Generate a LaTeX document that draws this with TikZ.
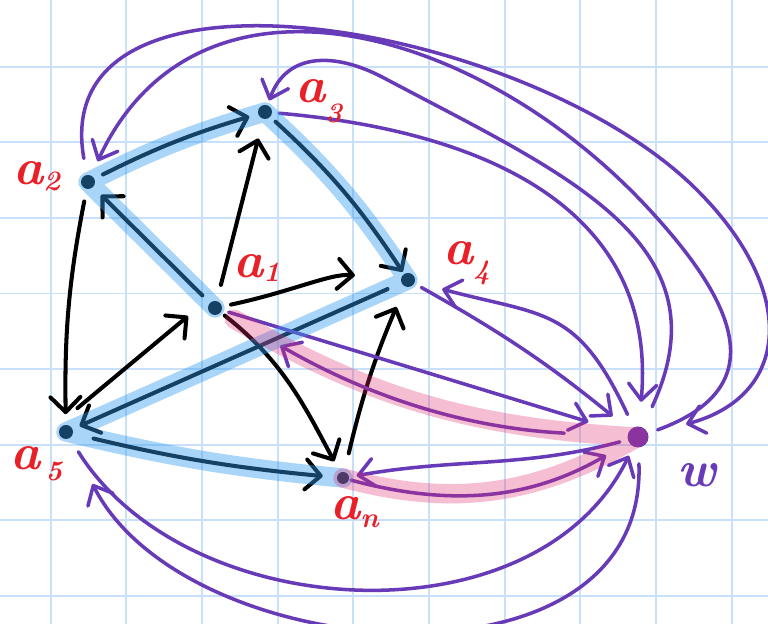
\documentclass[tikz,border=0pt]{standalone}
\usetikzlibrary{arrows.meta}

\definecolor{gridblue}{RGB}{200,224,250}
\definecolor{hlblue}{RGB}{50,155,240}
\definecolor{hlpink}{RGB}{225,40,110}
\definecolor{purp}{RGB}{103,58,183}
\definecolor{labred}{RGB}{234,32,40}
\newcommand{\lblidx}[2][3pt]{\raisebox{-#1}{\fontsize{16}{16}\selectfont #2}}

\begin{document}
\begin{tikzpicture}[
  dot/.style={circle, fill=black, inner sep=0pt, minimum size=2.8mm},
  lbl/.style={text=labred, font=\fontsize{29}{29}\selectfont\bfseries\itshape, inner sep=0pt, anchor=base west},
  blk/.style={line width=2.3pt, line cap=round, -{Straight Barb[length=8.5pt, width=17pt, round]}},
  prp/.style={line width=2pt, draw=purp, line cap=round, -{Straight Barb[length=9pt, width=16pt, round]}},
  bandb/.style={draw=hlblue, line width=11pt, opacity=.42, line cap=round, line join=round},
  bandp/.style={draw=hlpink, line width=11pt, opacity=.3, line cap=round, line join=round},
  gridline/.style={draw=gridblue, line width=1.1pt}
]
  \useasboundingbox (0,0) rectangle (15.36,12.48);
  \fill[white] (0,0) rectangle (15.36,12.48);
  \foreach \i in {0,...,9}
    \draw[gridline] ({1.014+1.513*\i},0) -- ++(0,12.48);
  \foreach \j in {0,...,7}
    \draw[gridline] (0,{11.146-1.512*\j}) -- ++(15.36,0);

  \node[dot] (a1) at (4.30,6.32) {};
  \node[dot] (a2) at (1.76,8.84) {};
  \node[dot] (a3) at (5.30,10.24) {};
  \node[dot] (a4) at (8.16,6.88) {};
  \node[dot] (a5) at (1.32,3.84) {};
  \node[dot, minimum size=2.4mm] (an) at (6.86,2.92) {};
  \node[dot, fill=purp, minimum size=4.2mm] (w) at (12.76,3.74) {};

  \coordinate (pA) at (13.94,8.68);
  \coordinate (pB) at (12.94,8.34);
  \coordinate (pC) at (7.68,10.92);

  % arcs between the a's
  \draw[blk, shorten <=3.3mm, shorten >=4mm] (a1) -- (a3);
  \draw[blk, shorten <=1.8mm, shorten >=9.2mm] (a1) to[out=12, in=175] (a4);
  \draw[blk, shorten <=1mm, shorten >=2.5mm] (a1) to[out=-38, in=118] (an);
  \draw[blk, shorten <=4.8mm, shorten >=5.2mm] ([shift={(-0.14,0.17)}]a5.center) -- ([shift={(-0.14,0.17)}]a1.center);
  \draw[blk, shorten <=2.5mm, shorten >=2.1mm] (a2) to[bend right=6] (a5);
  \draw[blk, shorten <=3.8mm, shorten >=4.4mm] (an) to[bend left=5] (a4);

  % the path a1 ... an
  \draw[blk, shorten <=2.1mm, shorten >=2.2mm] (a1) -- (a2);
  \draw[blk, shorten <=1.9mm, shorten >=1.8mm] (a2) to[bend left=5] (a3);
  \draw[blk, shorten <=1.4mm, shorten >=0.5mm] (a3) to[bend left=7] (a4);
  \draw[blk, shorten <=3mm, shorten >=1.5mm] (a4) -- (a5);
  \draw[blk, shorten <=4.2mm, shorten >=2.8mm] (a5) to[bend right=4] (an);

  % arcs to and from w
  \draw[prp, shorten <=1.4mm, shorten >=8.2mm] (a1) -- (w);
  \draw[prp, shorten <=12.6mm, shorten >=13.6mm] (w) to[out=177, in=-30] (a1);
  \draw[prp, shorten <=0.4mm, shorten >=5.2mm] (an) to[out=-15, in=-150] (w);
  \draw[prp, shorten <=1.6mm, shorten >=1.5mm] (w) to[out=195, in=10] (an);
  \draw[prp, shorten <=1.6mm, shorten >=4.4mm] (a4) to[bend left=5] (w);
  \draw[prp, shorten <=2.8mm, shorten >=5.6mm] (w) to[out=115, in=-15, looseness=1.3] (a4);
  \draw[prp, shorten <=1.4mm, shorten >=4.9mm] (a3) to[out=-5, in=85, looseness=1.15] (w);
  \draw[prp, shorten <=4.5mm, shorten >=1mm] (w) to[out=65, in=-28, looseness=1.2] (pC)
    to[out=152, in=70, looseness=1.2] (a3);
  \draw[prp, shorten <=3.3mm, shorten >=7.8mm] (a2) to[out=100, in=135, looseness=1] (pA)
    to[out=-45, in=15, looseness=1.5] (w);
  \draw[prp, shorten <=2mm, shorten >=3.1mm] (w) to[out=20, in=-47, looseness=1.5] (pB)
    to[out=133, in=65, looseness=1.15] (a2);
  \draw[prp, shorten <=3.2mm, shorten >=2mm] (a5) to[out=-58, in=-116] (w);
  \draw[prp, shorten <=3.2mm, shorten >=10.2mm] (w) to[out=-88, in=-63, looseness=1.15] (a5);

  % highlighted cycle
  \draw[bandb] (a1.center) -- (a2.center) to[bend left=5] (a3.center)
    to[bend left=7] (a4.center) -- (a5.center) to[bend right=4] (an.center);
  \draw[bandp, shorten <=4.5mm] (a1.center) to[out=-30, in=177] (w.center) to[out=-150, in=-15] (an.center);

  % labels
  \node[lbl] (l1) at (4.66,6.92) {a\lblidx[2pt]{1}};
  \node[lbl] (l2) at (0.26,8.78) {a\lblidx[3pt]{2}};
  \node[lbl] (l3) at (5.90,10.42) {a\lblidx[11pt]{3}};
  \node[lbl] (l4) at (8.86,7.18) {a\lblidx[8.5pt]{4}};
  \node[lbl] (l5) at (0.20,3.08) {a\hspace{3pt}\lblidx[6pt]{5}};
  \node[lbl] (ln) at (6.60,2.08) {a\lblidx[4pt]{n}};
  \node[lbl, text=purp] (lw) at (13.54,2.74) {w};
\end{tikzpicture}
\end{document}
